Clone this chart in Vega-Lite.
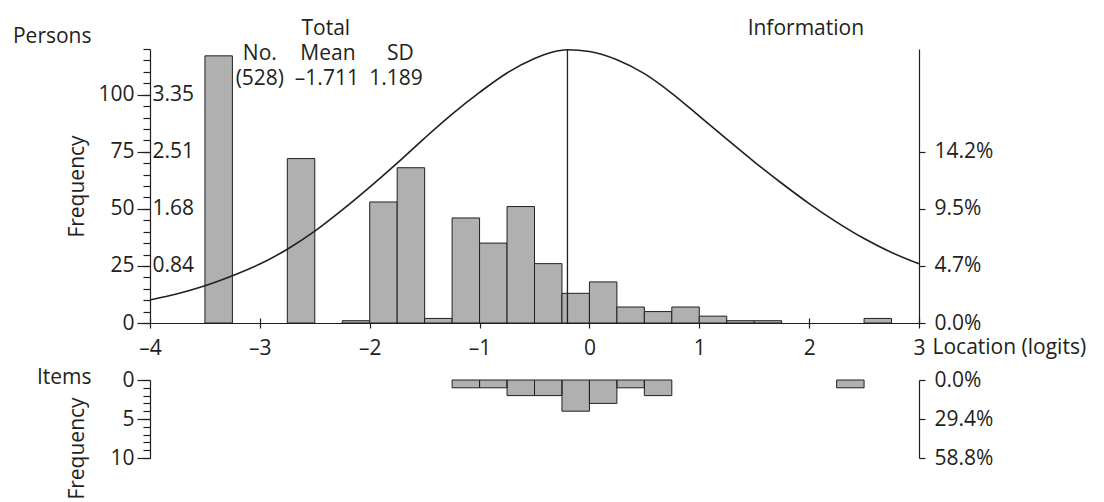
{
  "$schema": "https://vega.github.io/schema/vega-lite/v6.json",
  "padding": {"left": 12, "top": 17, "right": 0, "bottom": 0},
  "background": "white",
  "config": {
    "view": {"stroke": null},
    "font": "Open Sans",
    "text": {"font": "Open Sans"},
    "axis": {
      "labelFont": "Open Sans", "titleFont": "Open Sans",
      "labelFontSize": 21, "titleFontSize": 21, "titleFontWeight": "normal",
      "labelColor": "#231f20", "titleColor": "#231f20",
      "domainColor": "#231f20", "tickColor": "#231f20",
      "domainWidth": 1.2, "tickWidth": 1.2,
      "grid": false, "labelOverlap": false, "labelFlush": false, "labelBound": false
    }
  },
  "datasets": {
    "persons": [
      {"lo": -3.5, "hi": -3.25, "n": 117},
      {"lo": -2.75, "hi": -2.5, "n": 72},
      {"lo": -2.25, "hi": -2.0, "n": 1},
      {"lo": -2.0, "hi": -1.75, "n": 53},
      {"lo": -1.75, "hi": -1.5, "n": 68},
      {"lo": -1.5, "hi": -1.25, "n": 2},
      {"lo": -1.25, "hi": -1.0, "n": 46},
      {"lo": -1.0, "hi": -0.75, "n": 35},
      {"lo": -0.75, "hi": -0.5, "n": 51},
      {"lo": -0.5, "hi": -0.25, "n": 26},
      {"lo": -0.25, "hi": 0.0, "n": 13},
      {"lo": 0.0, "hi": 0.25, "n": 18},
      {"lo": 0.25, "hi": 0.5, "n": 7},
      {"lo": 0.5, "hi": 0.75, "n": 5},
      {"lo": 0.75, "hi": 1.0, "n": 7},
      {"lo": 1.0, "hi": 1.25, "n": 3},
      {"lo": 1.25, "hi": 1.5, "n": 1},
      {"lo": 1.5, "hi": 1.75, "n": 1},
      {"lo": 2.5, "hi": 2.75, "n": 2}
    ],
    "items": [
      {"lo": -1.25, "hi": -1.0, "n": 1},
      {"lo": -1.0, "hi": -0.75, "n": 1},
      {"lo": -0.75, "hi": -0.5, "n": 2},
      {"lo": -0.5, "hi": -0.25, "n": 2},
      {"lo": -0.25, "hi": 0.0, "n": 4},
      {"lo": 0.0, "hi": 0.25, "n": 3},
      {"lo": 0.25, "hi": 0.5, "n": 1},
      {"lo": 0.5, "hi": 0.75, "n": 2},
      {"lo": 2.25, "hi": 2.5, "n": 1}
    ],
    "info": [
      {"lx": -4.0, "info": 10.1},
      {"lx": -3.75, "info": 12.8},
      {"lx": -3.5, "info": 16.3},
      {"lx": -3.25, "info": 20.7},
      {"lx": -3.0, "info": 25.8},
      {"lx": -2.75, "info": 32.3},
      {"lx": -2.5, "info": 40.2},
      {"lx": -2.25, "info": 49.5},
      {"lx": -2.0, "info": 59.5},
      {"lx": -1.75, "info": 70.0},
      {"lx": -1.5, "info": 81.0},
      {"lx": -1.25, "info": 91.5},
      {"lx": -1.0, "info": 101.0},
      {"lx": -0.75, "info": 109.5},
      {"lx": -0.5, "info": 115.8},
      {"lx": -0.35, "info": 118.5},
      {"lx": -0.2, "info": 119.7},
      {"lx": 0.0, "info": 118.9},
      {"lx": 0.25, "info": 115.3},
      {"lx": 0.5, "info": 109.2},
      {"lx": 0.75, "info": 100.6},
      {"lx": 1.0, "info": 90.6},
      {"lx": 1.25, "info": 80.5},
      {"lx": 1.5, "info": 70.6},
      {"lx": 1.75, "info": 61.2},
      {"lx": 2.0, "info": 52.3},
      {"lx": 2.25, "info": 44.2},
      {"lx": 2.5, "info": 37.0},
      {"lx": 2.75, "info": 30.9},
      {"lx": 3.0, "info": 25.9}
    ],
    "peak": [{"loc": -0.2, "top": 119.7}],
    "notes": [
      {"t": "Total", "ax": -2.40, "ay": 126.3},
      {"t": "No.", "ax": -3.0, "ay": 115.4},
      {"t": "Mean", "ax": -2.38, "ay": 115.4},
      {"t": "SD", "ax": -1.72, "ay": 115.4},
      {"t": "(528)", "ax": -3.0, "ay": 104.4},
      {"t": "–1.711", "ax": -2.39, "ay": 104.4},
      {"t": "1.189", "ax": -1.76, "ay": 104.4},
      {"t": "Information", "ax": 1.97, "ay": 126.3}
    ]
  },
  "vconcat": [
    {
      "width": 769,
      "height": 274,
      "resolve": {"axis": {"x": "independent", "y": "independent"}},
      "layer": [
        {
          "data": {"name": "persons"},
          "mark": {"type": "rect", "fill": "#b0b0b0", "stroke": "#231f20", "strokeWidth": 1},
          "encoding": {
            "x": {"field": "lo", "type": "quantitative",
              "scale": {"domain": [-4, 3], "nice": false, "zero": false},
              "axis": {"orient": "bottom", "values": [-4, -3, -2, -1, 0, 1, 2, 3], "tickSize": 5, "labelPadding": 9,
                "labelExpr": "datum.value < 0 ? '–' + abs(datum.value) : '' + datum.value",
                "title": "Location (logits)", "titleX": 782, "titleY": 30, "titleAlign": "left", "titleBaseline": "alphabetic", "titleAngle": 0}},
            "x2": {"field": "hi"},
            "y": {"field": "n", "type": "quantitative",
              "scale": {"domain": [0, 120], "nice": false, "zero": true},
              "axis": {"orient": "left", "values": [0, 25, 50, 75, 100], "tickSize": 13, "labelPadding": 3,
                "title": "Frequency", "titleAngle": -90, "titleX": -73, "titleY": 137, "titleAlign": "center", "titleBaseline": "middle"}},
            "y2": {"datum": 0}
          }
        },
        {
          "data": {"name": "info"},
          "mark": {"type": "line", "stroke": "#231f20", "strokeWidth": 1.6, "interpolate": "monotone"},
          "encoding": {
            "x": {"field": "lx", "type": "quantitative",
              "scale": {"domain": [-4, 3], "nice": false, "zero": false},
              "axis": {"orient": "bottom", "values": [-4, -3, -2, -1, 0, 1, 2, 3], "tickSize": -5, "labels": false, "domain": false, "title": null}},
            "y": {"field": "info", "type": "quantitative",
              "scale": {"domain": [0, 120], "nice": false, "zero": true},
              "axis": {"orient": "left", "values": [0, 5, 10, 15, 20, 25, 30, 35, 40, 45, 50, 55, 60, 65, 70, 75, 80, 85, 90, 95, 100, 105, 110, 115, 120],
                "tickSize": 7, "labels": false, "domain": false, "title": null}}
          }
        },
        {
          "data": {"name": "peak"},
          "mark": {"type": "rule", "stroke": "#231f20", "strokeWidth": 1.3},
          "encoding": {
            "x": {"field": "loc", "type": "quantitative",
              "scale": {"domain": [-4, 3], "nice": false, "zero": false}, "axis": null},
            "y": {"field": "top", "type": "quantitative",
              "scale": {"domain": [0, 120], "nice": false, "zero": true},
              "axis": {"orient": "left", "values": [25, 50, 75, 100], "ticks": false, "domain": false,
                "labelAlign": "left", "labelPadding": -2,
                "labelExpr": "datum.value == 25 ? '0.84' : datum.value == 50 ? '1.68' : datum.value == 75 ? '2.51' : '3.35'",
                "title": "Persons", "titleAngle": 0, "titleX": -59, "titleY": -7, "titleAlign": "right", "titleBaseline": "alphabetic"}},
            "y2": {"datum": 0}
          }
        },
        {
          "data": {"name": "notes"},
          "mark": {"type": "text", "fontSize": 21, "font": "Open Sans", "align": "center", "baseline": "alphabetic", "color": "#231f20"},
          "encoding": {
            "x": {"field": "ax", "type": "quantitative",
              "scale": {"domain": [-4, 3], "nice": false, "zero": false}, "axis": null},
            "y": {"field": "ay", "type": "quantitative",
              "scale": {"domain": [0, 120], "nice": false, "zero": true},
              "axis": {"orient": "right", "values": [0, 25, 50, 75], "tickSize": 6, "labelPadding": 9,
                "labelExpr": "datum.value == 0 ? '0.0%' : datum.value == 25 ? '4.7%' : datum.value == 50 ? '9.5%' : '14.2%'",
                "title": null}},
            "text": {"field": "t"}
          }
        }
      ]
    },
    {
      "width": 769,
      "height": 78,
      "resolve": {"axis": {"x": "independent", "y": "independent"}},
      "layer": [
        {
          "data": {"name": "items"},
          "mark": {"type": "rect", "fill": "#b0b0b0", "strokeWidth": 0},
          "encoding": {
            "x": {"field": "lo", "type": "quantitative",
              "scale": {"domain": [-4, 3], "nice": false, "zero": false}, "axis": null},
            "x2": {"field": "hi"},
            "y": {"field": "n", "type": "quantitative",
              "scale": {"domain": [0, 10], "nice": false, "zero": true, "reverse": true},
              "axis": {"orient": "left", "values": [0, 5, 10], "tickSize": 13, "labelPadding": 3,
                "title": "Frequency", "titleAngle": -90, "titleX": -73, "titleY": 68, "titleAlign": "center", "titleBaseline": "middle"}},
            "y2": {"datum": 0}
          }
        },
        {
          "data": {"name": "items"},
          "mark": {"type": "rect", "filled": false, "stroke": "#231f20", "strokeWidth": 1},
          "encoding": {
            "x": {"field": "lo", "type": "quantitative",
              "scale": {"domain": [-4, 3], "nice": false, "zero": false}, "axis": null},
            "x2": {"field": "hi"},
            "y": {"field": "n", "type": "quantitative",
              "scale": {"domain": [0, 10], "nice": false, "zero": true, "reverse": true},
              "axis": {"orient": "right", "values": [0, 5, 10], "tickSize": 6, "labelPadding": 9,
                "labelExpr": "datum.value == 0 ? '0.0%' : datum.value == 5 ? '29.4%' : '58.8%'",
                "title": null}},
            "y2": {"datum": 0}
          }
        },
        {
          "mark": {"type": "rule", "stroke": "#231f20", "strokeWidth": 1.2},
          "encoding": {
            "y": {"datum": 0, "type": "quantitative",
              "scale": {"domain": [0, 10], "nice": false, "zero": true, "reverse": true},
              "axis": {"orient": "left", "values": [0, 1, 2, 3, 4, 5, 6, 7, 8, 9, 10], "tickSize": 7, "labels": false, "domain": false,
                "title": "Items", "titleAngle": 0, "titleX": -59, "titleY": 3, "titleAlign": "right", "titleBaseline": "alphabetic"}}
          }
        }
      ]
    }
  ],
  "spacing": 57,
  "bounds": "flush"
}
